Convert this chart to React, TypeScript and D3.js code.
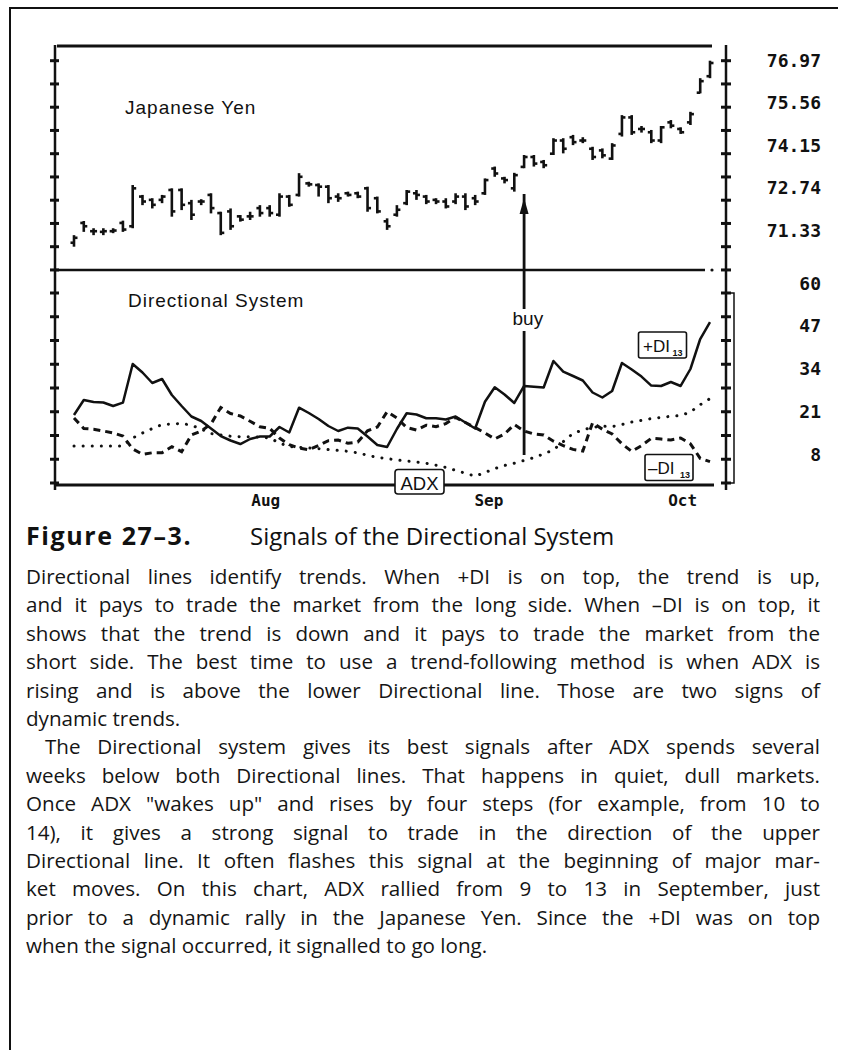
import React, { useLayoutEffect, useRef } from "react";
import * as d3 from "d3";

const W = 846;
const H = 1050;

// Japanese Yen daily bars
const highs = [71.68,72.11,71.89,71.89,71.89,72.12,73.20,72.90,72.80,72.90,73.10,73.10,72.75,72.77,72.95,72.39,72.49,72.29,72.39,72.59,72.59,72.95,72.90,73.56,73.30,73.25,73.20,72.95,73.00,73.00,73.15,72.85,72.19,72.59,73.05,73.05,72.90,72.80,72.80,72.95,72.95,72.90,73.40,73.76,73.45,73.57,74.11,74.11,73.96,74.62,74.62,74.72,74.65,74.36,74.31,74.47,75.32,75.32,74.99,74.87,74.99,75.17,74.95,75.42,76.44,76.97];
const lows = [71.33,71.78,71.68,71.68,71.74,71.78,71.89,72.59,72.49,72.65,72.24,72.44,72.14,72.59,72.34,71.68,71.84,72.09,72.14,72.24,72.24,72.24,72.54,72.85,73.15,72.85,72.65,72.69,72.85,72.80,72.39,72.34,71.84,72.24,72.59,72.75,72.62,72.62,72.49,72.62,72.44,72.59,72.90,73.45,73.25,73.00,73.71,73.76,73.71,74.11,74.16,74.41,74.47,73.96,74.01,73.96,74.67,74.72,74.79,74.47,74.47,74.92,74.75,75.02,75.98,76.44];
const opens = [71.45,72.05,71.80,71.78,71.80,72.05,71.95,72.85,72.75,72.75,73.05,73.05,72.65,72.70,72.90,72.35,72.40,72.25,72.25,72.50,72.50,72.30,72.85,72.90,73.25,73.20,73.15,72.85,72.95,72.95,73.10,72.80,72.10,72.30,72.65,72.95,72.85,72.75,72.70,72.70,72.85,72.80,72.95,73.70,73.40,73.10,73.75,74.05,73.90,74.15,74.55,74.65,74.55,74.30,74.25,74.00,74.75,75.25,74.90,74.80,74.55,75.10,74.90,75.10,76.00,76.50];
const closes = [71.60,71.95,71.80,71.80,71.82,71.85,73.10,72.70,72.60,72.85,72.40,72.60,72.30,72.70,72.50,71.75,71.95,72.15,72.25,72.35,72.35,72.85,72.60,73.45,73.22,73.15,72.80,72.80,72.90,72.85,72.50,72.40,71.95,72.45,73.00,72.90,72.70,72.70,72.55,72.85,72.55,72.70,73.35,73.55,73.35,73.50,74.05,73.85,73.80,74.55,74.30,74.50,74.55,74.05,74.10,74.40,75.25,74.80,74.90,74.55,74.95,75.00,74.80,75.35,76.35,76.90];

// Directional system (13-day)
const plusDI = [26.61,30.72,30.17,30.03,29.07,29.98,40.57,38.24,35.37,36.46,32.08,29.07,26.20,24.97,22.92,20.86,19.63,18.67,20.04,20.73,20.73,23.33,21.82,28.61,27.16,25.52,23.60,22.23,23.14,22.92,20.73,18.40,17.85,22.78,27.08,26.75,25.71,25.71,25.38,26.20,24.56,22.92,30.25,34.19,32.22,29.90,34.55,34.36,34.14,41.39,38.46,37.28,36.05,32.77,31.40,33.18,40.84,39.06,37.12,34.66,34.55,35.64,34.55,39.20,47.41,52.06];
const minusDI = [25.79,22.92,22.72,22.23,21.68,20.86,17.31,15.86,16.27,16.29,17.94,16.57,21.14,22.23,24.15,28.66,27.02,26.34,24.89,23.41,22.97,20.32,18.48,17.58,17.09,18.26,19.58,19.74,18.87,19.22,22.29,23.33,27.51,25.79,23.19,22.48,23.82,23.41,24.26,25.95,24.56,23.16,21.68,20.07,21.41,24.01,22.23,21.41,21.14,19.44,18.24,17.20,16.76,24.48,22.72,21.41,18.73,16.65,18.21,20.23,20.04,19.77,20.32,18.73,14.73,13.83];
const adx = [18.13,18.13,18.13,18.13,18.13,18.13,20.32,21.68,22.92,23.96,24.15,24.31,23.79,22.78,21.55,21.14,20.81,20.67,20.67,20.59,20.32,18.95,17.96,17.77,17.58,17.39,17.14,16.92,16.68,16.27,15.58,15.03,14.68,14.30,14.02,13.75,13.39,12.87,12.27,11.45,10.68,9.86,10.87,11.94,12.79,13.42,14.16,14.93,15.96,17.09,19.30,21.58,22.51,23.27,23.52,23.44,24.01,24.67,25.16,25.63,25.95,26.26,26.45,27.43,29.43,31.10];

const priceLabels = [76.97, 75.56, 74.15, 72.74, 71.33];
const indLabels = [60, 47, 34, 21, 8];
const months = ["Aug", "Sep", "Oct"];
const monthAt = [19.6, 42.4, 62.2];
const buyAt = 46;

const captionBold = "Figure 27\u20133.";
const captionText = "Signals of the Directional System";
const para1 = [
  "Directional lines identify trends. When +DI is on top, the trend is up,",
  "and it pays to trade the market from the long side. When \u2013DI is on top, it",
  "shows that the trend is down and it pays to trade the market from the",
  "short side. The best time to use a trend-following method is when ADX is",
  "rising and is above the lower Directional line. Those are two signs of",
  "dynamic trends.",
];
const para2 = [
  "The Directional system gives its best signals after ADX spends several",
  "weeks below both Directional lines. That happens in quiet, dull markets.",
  "Once ADX \"wakes up\" and rises by four steps (for example, from 10 to",
  "14), it gives a strong signal to trade in the direction of the upper",
  "Directional line. It often flashes this signal at the beginning of major mar-",
  "ket moves. On this chart, ADX rallied from 9 to 13 in September, just",
  "prior to a dynamic rally in the Japanese Yen. Since the +DI was on top",
  "when the signal occurred, it signalled to go long.",
];

const BODY_FONT = "'Open Sans', 'Noto Sans', Lato, sans-serif";
const AXIS_FONT = "'DejaVu Sans Mono', 'Liberation Mono', monospace";
const HELV = "'Liberation Sans', Arial, Helvetica, sans-serif";

function JLine({ x, y, right, text, justify }: { x: number; y: number; right: number; text: string; justify: boolean }) {
  const ref = useRef<SVGTextElement>(null);
  useLayoutEffect(() => {
    const fit = () => {
      const el = ref.current;
      if (!el) return;
      el.style.wordSpacing = "0px";
      if (!justify) return;
      const len = el.getComputedTextLength();
      const n = (text.match(/ /g) || []).length;
      if (n > 0) el.style.wordSpacing = (right - x - len) / n + "px";
    };
    fit();
    if ((document as any).fonts && (document as any).fonts.ready) (document as any).fonts.ready.then(fit);
  }, [text, x, right, justify]);
  return (
    <text ref={ref} x={x} y={y} fontFamily={BODY_FONT} fontSize={20.6} fill="#151515" style={{ whiteSpace: "pre" }}>
      {text}
    </text>
  );
}

export default function App() {
  const n = highs.length;
  const x = d3.scaleLinear().domain([0, n - 1]).range([74, 710]);
  const yP = d3.scaleLinear().domain([71.33, 76.97]).range([246.7, 60.7]);
  const yI = d3.scaleLinear().domain([8, 60]).range([483, 293]);
  // positions of the printed scale labels in the right-hand column
  const labP = d3.scalePoint<number>().domain(priceLabels).range([60, 230]);
  const labI = d3.scalePoint<number>().domain(indLabels).range([283, 454]);

  const priceTicks = d3.range(0, 10).map((k) => 76.97 - k * 0.705);
  const indTicks = d3.range(0, 9).map((k) => 60 - k * 6.5);

  const line = d3.line<number>().x((_, i) => x(i)).y((d) => yI(d));

  const axisL = 55;
  const axisR = 726;
  const bx = x(buyAt);

  const bodyTop = 584;
  const lh = 28.4;

  return (
    <svg width={W} height={H} style={{ position: "absolute", left: 0, top: 0, background: "#fff" }}>
      {/* page frame */}
      <path d="M10,1050 V8 H838" fill="none" stroke="#111" strokeWidth={2} />

      {/* top frame line */}
      <line x1={57} x2={712} y1={46} y2={46} stroke="#111" strokeWidth={3} />
      {/* divider */}
      <line x1={axisL} x2={705} y1={270} y2={270} stroke="#111" strokeWidth={2.5} />
      <circle cx={712} cy={270} r={1.6} fill="#111" />
      {/* bottom axis */}
      <line x1={axisL} x2={714} y1={485} y2={485} stroke="#111" strokeWidth={3} />

      {/* left axis */}
      <line x1={axisL} x2={axisL} y1={45} y2={490} stroke="#111" strokeWidth={2.5} />
      {priceTicks.map((t, i) => (
        <line key={"lp" + i} x1={axisL - 5} x2={axisL + 4} y1={yP(t)} y2={yP(t)} stroke="#111" strokeWidth={3} />
      ))}
      {indTicks.map((t, i) => (
        <line key={"li" + i} x1={axisL - 5} x2={axisL + 4} y1={yI(t)} y2={yI(t)} stroke="#111" strokeWidth={3} />
      ))}

      {/* right axis */}
      <line x1={axisR} x2={axisR} y1={45} y2={490} stroke="#111" strokeWidth={2.5} />
      {priceTicks.map((t, i) => (
        <line key={"rp" + i} x1={axisR - 5} x2={axisR + 5} y1={yP(t)} y2={yP(t)} stroke="#111" strokeWidth={3} />
      ))}
      {indTicks.map((t, i) => (
        <line key={"ri" + i} x1={axisR - 5} x2={axisR + 5} y1={yI(t)} y2={yI(t)} stroke="#111" strokeWidth={3} />
      ))}
      <path d={`M${axisR},${yI(60)} H${axisR + 8} V${yI(8)} H${axisR}`} fill="none" stroke="#111" strokeWidth={1.5} />

      {/* right labels */}
      {priceLabels.map((v, i) => (
        <text key={"pl" + i} x={821} y={(labP(v) || 0) + 6.5} textAnchor="end" fontFamily={AXIS_FONT} fontWeight="bold" fontSize={18} fill="#111">
          {v.toFixed(2)}
        </text>
      ))}
      {indLabels.map((v, i) => (
        <text key={"il" + i} x={821} y={(labI(v) || 0) + 6.5} textAnchor="end" fontFamily={AXIS_FONT} fontWeight="bold" fontSize={18} fill="#111">
          {String(v)}
        </text>
      ))}

      {/* month labels */}
      {months.map((m, i) => (
        <text key={m} x={x(monthAt[i])} y={506} textAnchor="middle" fontFamily={AXIS_FONT} fontWeight="bold" fontSize={16} fill="#111">
          {m}
        </text>
      ))}

      {/* titles */}
      <text x={125} y={114} fontFamily={HELV} fontSize={19} letterSpacing={1} fill="#111">Japanese Yen</text>
      <text x={128} y={307} fontFamily={HELV} fontSize={19} letterSpacing={1} fill="#111">Directional System</text>

      {/* price bars */}
      {highs.map((h, i) => (
        <g key={"b" + i} stroke="#111">
          <line x1={x(i)} x2={x(i)} y1={yP(h)} y2={yP(lows[i])} strokeWidth={2.6} />
          <line x1={x(i) - 3.5} x2={x(i)} y1={yP(opens[i])} y2={yP(opens[i])} strokeWidth={2.6} />
          <line x1={x(i)} x2={x(i) + 3.5} y1={yP(closes[i])} y2={yP(closes[i])} strokeWidth={2.6} />
        </g>
      ))}

      {/* indicator lines */}
      <path d={line(adx) || ""} fill="none" stroke="#111" strokeWidth={3} strokeDasharray="0.1 9" strokeLinecap="round" />
      <path d={line(minusDI) || ""} fill="none" stroke="#111" strokeWidth={3} strokeDasharray="7 5" />
      <path d={line(plusDI) || ""} fill="none" stroke="#111" strokeWidth={2.5} strokeLinejoin="round" />

      {/* buy arrow */}
      <line x1={bx} x2={bx} y1={194} y2={455} stroke="#111" strokeWidth={2.8} />
      <path d={`M${bx},198 L${bx - 4.5},214 L${bx + 4.5},214 Z`} fill="#111" />
      <rect x={511} y={309} width={35} height={22} fill="#fff" />
      <text x={512.5} y={325} fontFamily={HELV} fontSize={19} fill="#111">buy</text>

      {/* legend boxes */}
      <rect x={395} y={469.5} width={49} height={24.5} rx={3} fill="#fff" stroke="#111" strokeWidth={1.6} />
      <text x={419.5} y={490} textAnchor="middle" fontFamily={HELV} fontSize={18.5} fill="#111">ADX</text>

      <rect x={638.5} y={332} width={48} height={26} rx={2} fill="#fff" stroke="#111" strokeWidth={1.6} />
      <text x={643} y={352} fontFamily={HELV} fontSize={17} fill="#111">+DI</text>
      <text x={672.5} y={356} fontFamily={HELV} fontSize={9} fontWeight="bold" fill="#111">13</text>

      <rect x={645} y={454.5} width={48} height={26} rx={2} fill="#fff" stroke="#111" strokeWidth={1.6} />
      <text x={648} y={474} fontFamily={HELV} fontSize={17} fill="#111">{"\u2013DI"}</text>
      <text x={680} y={477.5} fontFamily={HELV} fontSize={9} fontWeight="bold" fill="#111">13</text>

      {/* caption */}
      <text x={26} y={545} fontFamily={BODY_FONT} fontSize={24} fill="#111">
        <tspan fontWeight="bold" fontSize={25} letterSpacing={1.6}>{captionBold}</tspan>
        <tspan x={250}>{captionText}</tspan>
      </text>

      {/* body text */}
      {para1.map((t, i) => (
        <JLine key={"p1" + i} x={26} y={bodyTop + i * lh} right={820} text={t} justify={i < para1.length - 1} />
      ))}
      {para2.map((t, i) => (
        <JLine key={"p2" + i} x={i === 0 ? 45 : 26} y={bodyTop + (para1.length + i) * lh} right={820} text={t} justify={i < para2.length - 1} />
      ))}
    </svg>
  );
}
